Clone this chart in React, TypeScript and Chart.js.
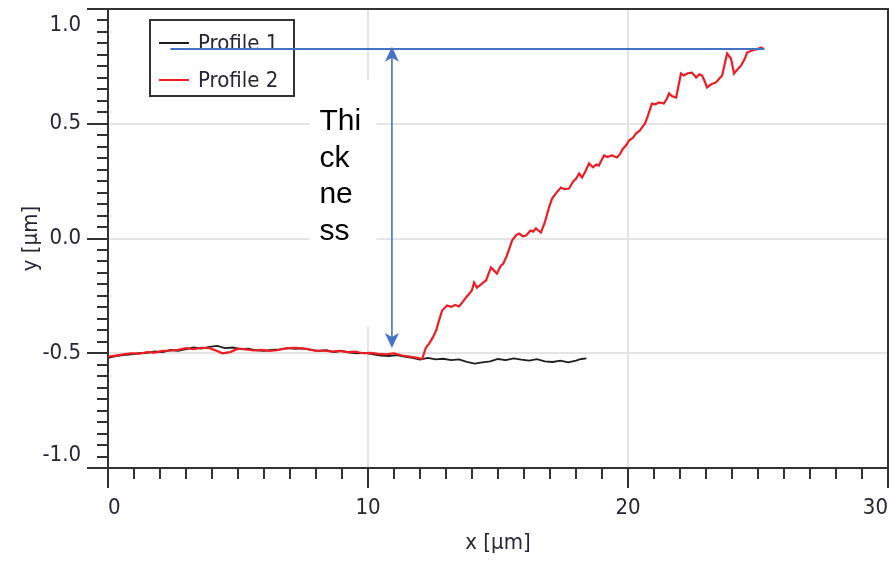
import React, { useEffect, useRef } from 'react';
import { Chart, registerables } from 'chart.js';

Chart.register(...registerables);

// ---------- data ----------
const profile1X = [0.0, 0.3, 0.6, 0.9, 1.2, 1.5, 1.8, 2.1, 2.4, 2.7, 3.0, 3.3, 3.6, 3.9, 4.2, 4.5, 4.8, 5.1, 5.4, 5.7, 6.0, 6.3, 6.6, 6.9, 7.2, 7.5, 7.8, 8.1, 8.4, 8.7, 9.0, 9.3, 9.6, 9.9, 10.2, 10.5, 10.8, 11.1, 11.4, 11.7, 12.0, 12.3, 12.6, 12.9, 13.2, 13.5, 13.8, 14.1, 14.4, 14.7, 15.0, 15.3, 15.6, 15.9, 16.2, 16.5, 16.8, 17.1, 17.4, 17.7, 18.0, 18.2, 18.4];
const profile1Y = [-0.52, -0.512, -0.508, -0.505, -0.5, -0.498, -0.492, -0.495, -0.486, -0.49, -0.482, -0.475, -0.48, -0.472, -0.468, -0.478, -0.475, -0.482, -0.48, -0.487, -0.49, -0.485, -0.483, -0.478, -0.481, -0.479, -0.485, -0.49, -0.487, -0.495, -0.49, -0.497, -0.5, -0.498, -0.505, -0.51, -0.512, -0.508, -0.515, -0.52, -0.528, -0.52, -0.527, -0.524, -0.53, -0.527, -0.538, -0.545, -0.54, -0.535, -0.525, -0.53, -0.522, -0.528, -0.532, -0.526, -0.535, -0.538, -0.532, -0.54, -0.532, -0.525, -0.522];

const profile2X = [0.0, 0.3, 0.6, 0.9, 1.2, 1.5, 1.8, 2.1, 2.4, 2.7, 3.0, 3.3, 3.6, 3.9, 4.2, 4.4, 4.7, 5.0, 5.3, 5.6, 5.9, 6.2, 6.5, 6.8, 7.1, 7.4, 7.7, 8.0, 8.3, 8.6, 8.9, 9.2, 9.5, 9.8, 10.1, 10.4, 10.7, 11.0, 11.3, 11.6, 11.9, 12.08, 12.23, 12.35, 12.5, 12.62, 12.75, 12.85, 13.04, 13.2, 13.35, 13.5, 13.65, 13.77, 13.9, 14.0, 14.08, 14.19, 14.35, 14.45, 14.54, 14.65, 14.73, 14.85, 14.96, 15.1, 15.2, 15.31, 15.45, 15.54, 15.7, 15.81, 15.95, 16.08, 16.25, 16.35, 16.46, 16.55, 16.65, 16.8, 16.96, 17.08, 17.25, 17.42, 17.55, 17.73, 17.9, 18.0, 18.12, 18.23, 18.35, 18.5, 18.65, 18.78, 18.88, 19.0, 19.08, 19.2, 19.38, 19.58, 19.7, 19.8, 19.92, 20.04, 20.2, 20.31, 20.45, 20.54, 20.65, 20.75, 20.92, 21.05, 21.19, 21.38, 21.5, 21.58, 21.7, 21.85, 21.95, 22.04, 22.15, 22.3, 22.46, 22.62, 22.75, 22.85, 22.95, 23.04, 23.2, 23.38, 23.5, 23.62, 23.72, 23.81, 23.96, 24.08, 24.2, 24.35, 24.5, 24.58, 24.77, 24.96, 25.1, 25.2];
const profile2Y = [-0.515, -0.51, -0.505, -0.5, -0.502, -0.495, -0.497, -0.49, -0.488, -0.485, -0.478, -0.482, -0.476, -0.478, -0.49, -0.5, -0.495, -0.48, -0.483, -0.488, -0.485, -0.49, -0.487, -0.48, -0.476, -0.478, -0.482, -0.49, -0.488, -0.493, -0.49, -0.495, -0.493, -0.5, -0.498, -0.503, -0.505, -0.5, -0.51, -0.515, -0.52, -0.525, -0.475, -0.458, -0.43, -0.401, -0.35, -0.314, -0.292, -0.298, -0.29, -0.296, -0.275, -0.257, -0.24, -0.225, -0.192, -0.214, -0.2, -0.19, -0.183, -0.15, -0.126, -0.14, -0.153, -0.12, -0.11, -0.083, -0.04, -0.009, 0.015, 0.022, 0.01, 0.013, 0.035, 0.03, 0.044, 0.035, 0.026, 0.07, 0.135, 0.174, 0.2, 0.222, 0.215, 0.218, 0.25, 0.26, 0.283, 0.266, 0.29, 0.327, 0.31, 0.322, 0.318, 0.345, 0.362, 0.355, 0.362, 0.353, 0.37, 0.39, 0.405, 0.427, 0.44, 0.458, 0.47, 0.484, 0.5, 0.53, 0.588, 0.585, 0.593, 0.588, 0.61, 0.632, 0.62, 0.614, 0.67, 0.719, 0.71, 0.72, 0.723, 0.702, 0.715, 0.71, 0.685, 0.658, 0.672, 0.68, 0.695, 0.71, 0.76, 0.806, 0.784, 0.719, 0.735, 0.754, 0.785, 0.81, 0.819, 0.825, 0.832, 0.83];

const seriesNames = ['Profile 1', 'Profile 2'];
const xTickValues = [0, 10, 20, 30];
const xTickLabels = ['0', '10', '20', '30'];
const yTickValues = [-1.0, -0.5, 0.0, 0.5, 1.0];
const yTickLabels = ['-1.0', '-0.5', '0.0', '0.5', '1.0'];
const xTitle = 'x [µm]';
const yTitle = 'y [µm]';

// annotation (data units)
const thicknessLineY = 0.826;
const thicknessLineX = [2.4, 25.25];
const arrowX = 10.92;
const arrowTopY = 0.835;
const arrowBottomY = -0.477;
const thicknessText = ['Thi', 'ck', 'ne', 'ss'];
const thicknessTextAnchor = [8.13, 0.473]; // x, y of first baseline

// ---------- style ----------
const FONT = '"DejaVu Sans Condensed", "DejaVu Sans", sans-serif';
const FONT_SIZE = 22;
const TEXT_COLOR = '#262634';
const AXIS_COLOR = '#333333';
const GRID_COLOR = '#e4e4e4';
const BLUE = '#4472C4';

const toPts = (xs: number[], ys: number[]) => xs.map((x, i) => ({ x, y: ys[i] }));

const overlayPlugin = {
  id: 'overlay',
  afterDraw(chart: any) {
    const { ctx, chartArea } = chart;
    const xs = chart.scales.x;
    const ys = chart.scales.y;
    const { left, right, top, bottom } = chartArea;
    ctx.save();

    // frame top & right
    ctx.strokeStyle = AXIS_COLOR;
    ctx.lineWidth = 2;
    ctx.beginPath();
    ctx.moveTo(left - 21, top);
    ctx.lineTo(right, top);
    ctx.lineTo(right, bottom);
    ctx.stroke();

    // minor ticks
    ctx.lineWidth = 2;
    ctx.beginPath();
    for (let v = 1; v < 30; v++) {
      if (v % 10 === 0) continue;
      const px = Math.round(xs.getPixelForValue(v));
      ctx.moveTo(px, bottom);
      ctx.lineTo(px, bottom + 11);
    }
    for (let i = -20; i <= 20; i++) {
      if (i % 10 === 0) continue;
      const py = Math.round(ys.getPixelForValue(i * 0.05));
      ctx.moveTo(left - 11, py);
      ctx.lineTo(left, py);
    }
    ctx.stroke();

    // tick labels
    ctx.fillStyle = TEXT_COLOR;
    ctx.font = `${FONT_SIZE}px ${FONT}`;
    ctx.textBaseline = 'middle';
    ctx.textAlign = 'center';
    xTickValues.forEach((v, i) => {
      const t = xTickLabels[i];
      const w = ctx.measureText(t).width;
      let cx = xs.getPixelForValue(v);
      cx = Math.max(left + w / 2, Math.min(right - w / 2, cx));
      ctx.fillText(t, cx, bottom + 40);
    });
    ctx.textAlign = 'right';
    yTickValues.forEach((v, i) => {
      let cy = ys.getPixelForValue(v);
      cy = Math.max(top + 16, Math.min(bottom - 13, cy));
      ctx.fillText(yTickLabels[i], left - 27, cy);
    });

    // thickness text box
    const tx = xs.getPixelForValue(thicknessTextAnchor[0]);
    const ty = ys.getPixelForValue(thicknessTextAnchor[1]);
    ctx.fillStyle = '#ffffff';
    ctx.fillRect(tx - 10, ty - 50, 67, 247);
    ctx.fillStyle = '#000000';
    ctx.font = '30px "Liberation Sans", Arial, sans-serif';
    ctx.textAlign = 'left';
    ctx.textBaseline = 'alphabetic';
    thicknessText.forEach((t, i) => ctx.fillText(t, tx, ty + i * 36.7));

    // legend
    const lx = left + 42, ly = top + 11, lw = 144, lh = 76;
    ctx.fillStyle = '#ffffff';
    ctx.fillRect(lx, ly, lw, lh);
    ctx.strokeStyle = AXIS_COLOR;
    ctx.lineWidth = 2;
    ctx.strokeRect(lx, ly, lw, lh);
    const colors = ['#1e1e1e', '#ee1c24'];
    ctx.font = `${FONT_SIZE}px ${FONT}`;
    ctx.textBaseline = 'middle';
    seriesNames.forEach((n, i) => {
      const yy = ly + 23 + i * 37;
      ctx.strokeStyle = colors[i];
      ctx.lineWidth = 2;
      ctx.beginPath();
      ctx.moveTo(lx + 9, yy);
      ctx.lineTo(lx + 39, yy);
      ctx.stroke();
      ctx.fillStyle = TEXT_COLOR;
      ctx.fillText(n, lx + 48, yy + 1);
    });

    // blue thickness line
    ctx.strokeStyle = BLUE;
    ctx.fillStyle = BLUE;
    ctx.lineWidth = 2;
    const hy = ys.getPixelForValue(thicknessLineY);
    ctx.beginPath();
    ctx.moveTo(xs.getPixelForValue(thicknessLineX[0]), hy);
    ctx.lineTo(xs.getPixelForValue(thicknessLineX[1]), hy);
    ctx.stroke();

    // double arrow
    const ax = xs.getPixelForValue(arrowX);
    const aTop = ys.getPixelForValue(arrowTopY);
    const aBot = ys.getPixelForValue(arrowBottomY);
    ctx.lineWidth = 1.6;
    ctx.beginPath();
    ctx.moveTo(ax, aTop + 8);
    ctx.lineTo(ax, aBot - 8);
    ctx.stroke();
    const head = (tipY: number, dir: number) => {
      ctx.beginPath();
      ctx.moveTo(ax, tipY);
      ctx.lineTo(ax - 7, tipY + dir * 15);
      ctx.lineTo(ax, tipY + dir * 11);
      ctx.lineTo(ax + 7, tipY + dir * 15);
      ctx.closePath();
      ctx.fill();
    };
    head(aTop, 1);
    head(aBot, -1);

    ctx.restore();
  },
};

export default function App() {
  const ref = useRef<HTMLCanvasElement>(null);
  useEffect(() => {
    document.body.style.margin = '0';
    const gridColor = (ends: number[]) => (c: any) =>
      c.tick && ends.some((e) => Math.abs(c.tick.value - e) < 1e-9) ? 'rgba(0,0,0,0)' : GRID_COLOR;
    const chart = new Chart(ref.current as HTMLCanvasElement, {
      type: 'line',
      data: {
        datasets: [
          { label: seriesNames[0], data: toPts(profile1X, profile1Y), borderColor: '#1e1e1e', borderWidth: 1.8, pointRadius: 0, tension: 0, order: 1 },
          { label: seriesNames[1], data: toPts(profile2X, profile2Y), borderColor: '#ee1c24', borderWidth: 2.2, pointRadius: 0, tension: 0, order: 0 },
        ],
      },
      options: {
        animation: false,
        responsive: true,
        maintainAspectRatio: false,
        layout: { padding: { top: 9, right: 3, left: 0, bottom: 0 } },
        plugins: { legend: { display: false }, tooltip: { enabled: false } },
        scales: {
          x: {
            type: 'linear',
            min: 0,
            max: 30,
            ticks: { display: false, stepSize: 10 },
            grid: { color: gridColor([0, 30]), lineWidth: 2, tickColor: AXIS_COLOR, tickWidth: 2, tickLength: 20, drawTicks: true },
            border: { display: true, color: AXIS_COLOR, width: 2 },
            title: { display: true, text: xTitle, color: TEXT_COLOR, font: { family: FONT, size: FONT_SIZE }, padding: { top: 0, bottom: 5 } },
            afterFit: (s: any) => { s.height = 93; },
          },
          y: {
            type: 'linear',
            min: -1,
            max: 1,
            ticks: { display: false, stepSize: 0.5 },
            grid: { color: gridColor([-1, 1]), lineWidth: 2, tickColor: AXIS_COLOR, tickWidth: 2, tickLength: 21, drawTicks: true },
            border: { display: true, color: AXIS_COLOR, width: 2 },
            title: { display: true, text: yTitle, color: TEXT_COLOR, font: { family: FONT, size: FONT_SIZE }, padding: { top: 18, bottom: 0 } },
            afterFit: (s: any) => { s.width = 108; },
          },
        },
      },
      plugins: [overlayPlugin],
    } as any);
    return () => chart.destroy();
  }, []);
  return (
    <div style={{ position: 'absolute', left: 0, top: 0, width: 891, height: 561 }}>
      <canvas ref={ref} />
    </div>
  );
}
